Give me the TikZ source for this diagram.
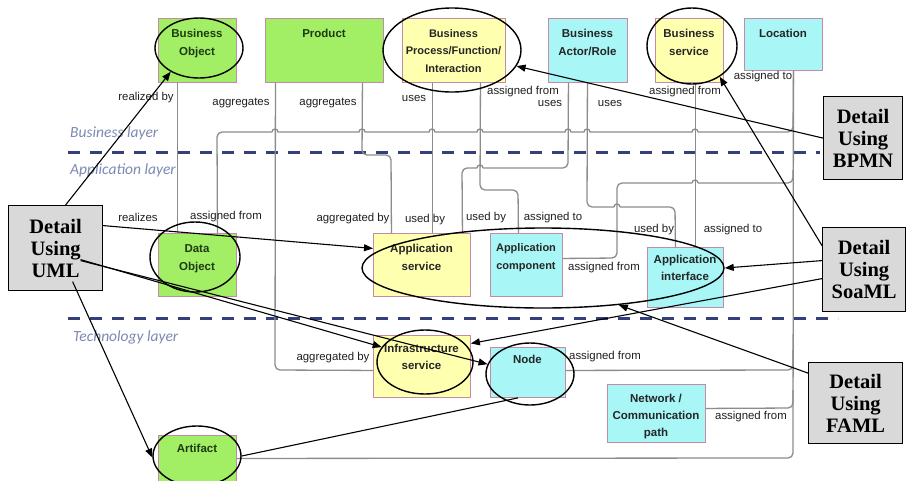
\documentclass[tikz,border=0pt]{standalone}
\usepackage{fontspec}
\setmainfont{Liberation Sans}
\newfontfamily\detailfont{Liberation Serif}
\newfontfamily\layerfont{Carlito}
\usetikzlibrary{shapes.geometric,arrows.meta}

\definecolor{gfill}{HTML}{A2EE64}
\definecolor{yfill}{HTML}{FFFFB0}
\definecolor{cfill}{HTML}{A8F6F6}
\definecolor{boxedge}{HTML}{C48AA8}
\definecolor{connc}{HTML}{8C8C8C}
\definecolor{sepc}{HTML}{35407A}
\definecolor{layerc}{HTML}{7D89B3}
\definecolor{detfill}{HTML}{D9D9D9}
\definecolor{etext}{HTML}{262626}
\definecolor{gtext}{HTML}{1E3B12}

\tikzset{
  ent/.style={draw=boxedge, line width=0.9pt, inner sep=0pt, anchor=north west},
  gent/.style={ent, fill=gfill},
  yent/.style={ent, fill=yfill},
  cent/.style={ent, fill=cfill},
  etxt/.style={font=\bfseries\fontsize{11.5}{18}\selectfont, align=center, anchor=north, inner sep=0pt, text=etext},
  getxt/.style={etxt, text=gtext},
  lbl/.style={font=\fontsize{11.4}{12}\selectfont, inner sep=0pt, text=black!88},
  conn/.style={draw=connc, line width=1.3pt, rounded corners=5pt},
  hopline/.style={draw=connc, line width=1.3pt},
  halo/.style={ellipse, draw=black, line width=1.4pt, inner sep=0pt},
  ptr/.style={draw=black, line width=1.1pt, -{Triangle[length=9pt,width=7pt]}},
  tie/.style={draw=black, line width=1.1pt},
  detail/.style={draw=black, fill=detfill, line width=1.2pt, anchor=north west, inner sep=0pt,
    font=\detailfont\bfseries\fontsize{20.5}{22}\selectfont, align=center},
  layertxt/.style={font=\layerfont\itshape\fontsize{15.5}{16}\selectfont, text=layerc, anchor=west, inner sep=0pt},
  sepline/.style={draw=sepc, line width=3pt, dash pattern=on 12pt off 10pt},
}

\begin{document}
\begin{tikzpicture}[x=1pt,y=-1pt]
\useasboundingbox (0,0) rectangle (906,480);
\fill[white] (0,0) rectangle (906,480);

% layer separators and layer names
\draw[sepline] (68,152.5) -- (820,152.5);
\draw[sepline] (68,318) -- (838,318);
\node[layertxt] (lay-bus) at (70,133) {Business layer};
\node[layertxt] (lay-app) at (70,170) {Application layer};
\node[layertxt] (lay-tech) at (73,337) {Technology layer};

% business layer elements
\node[gent, minimum width=78, minimum height=64] (bobj) at (158,18) {};
\node[gent, minimum width=118, minimum height=64] (prod) at (265,18) {};
\node[yent, minimum width=103, minimum height=64] (bproc) at (402,18) {};
\node[cent, minimum width=79, minimum height=64] (bactor) at (548,18) {};
\node[yent, minimum width=68, minimum height=64] (bsvc) at (655,18) {};
\node[cent, minimum width=78, minimum height=52] (loc) at (744,18) {};
\node[getxt] (bobj-t) at (197,29) {Business\\Object};
\node[getxt] (prod-t) at (324,29) {Product};
\node[etxt, font=\bfseries\fontsize{11}{17.5}\selectfont] (bproc-t) at (453.5,29) {Business\\Process/Function/\\Interaction};
\node[etxt] (bactor-t) at (587.5,29) {Business\\Actor/Role};
\node[etxt] (bsvc-t) at (689,29) {Business\\service};
\node[etxt] (loc-t) at (783,29) {Location};

% application layer elements
\node[gent, minimum width=78, minimum height=63] (dobj) at (158,233) {};
\node[yent, minimum width=97, minimum height=63] (asvc) at (373,233) {};
\node[cent, minimum width=72, minimum height=63] (acomp) at (490,233) {};
\node[cent, minimum width=76, minimum height=60] (aint) at (647,247) {};
\node[getxt] (dobj-t) at (197,244) {Data\\Object};
\node[etxt] (asvc-t) at (421.5,244) {Application\\service};
\node[etxt, font=\bfseries\fontsize{11}{18}\selectfont] (acomp-t) at (526,243) {Application\\component};
\node[etxt, font=\bfseries\fontsize{11.5}{17}\selectfont] (aint-t) at (685,255) {Application\\interface};

% technology layer elements
\node[yent, minimum width=97, minimum height=62] (infra) at (373,335) {};
\node[cent, minimum width=75, minimum height=50] (nd) at (490,347) {};
\node[cent, minimum width=98, minimum height=58] (net) at (607,384) {};
\node[gent, minimum width=78, minimum height=55] (art) at (158,435) {};
\node[etxt, font=\bfseries\fontsize{11.5}{16.5}\selectfont] (infra-t) at (421.5,344) {Infrastructure\\service};
\node[etxt] (nd-t) at (527.5,355) {Node};
\node[etxt, font=\bfseries\fontsize{11.5}{17}\selectfont] (net-t) at (656,394) {Network /\\Communication\\path};
\node[getxt] (art-t) at (197,444) {Artifact};

% relationship lines
\draw[conn] ([xshift=-20pt]bobj.south) -- ([xshift=-20pt]dobj.north);
% location to data object, hopping over the crossing lines
\draw[conn] ([xshift=10pt]loc.south) -- (793,132) -- (698,132);
\draw[hopline] (698,132) arc[start angle=0,end angle=-180,radius=3]
  -- (590,132) arc[start angle=0,end angle=-180,radius=3]
  -- (571,132) arc[start angle=0,end angle=-180,radius=3]
  -- (483,132) arc[start angle=0,end angle=-180,radius=3]
  -- (435,132) arc[start angle=0,end angle=-180,radius=3]
  -- (365,132) arc[start angle=0,end angle=-180,radius=3]
  -- (278,132) arc[start angle=0,end angle=-180,radius=3];
\draw[conn] (272,132) -- (217,132) -- ([xshift=20pt]dobj.north);
% product
\draw[conn] ([xshift=-49pt]prod.south) -- (275,370) -- ([yshift=-4pt]infra.west);
\draw[conn] ([xshift=38pt]prod.south) -- (362,155) -- (391,155) -- ([xshift=-30.5pt]asvc.north);
% business process
\draw[conn] ([xshift=-21.5pt]bproc.south) -- ([xshift=10.5pt]asvc.north);
\draw[conn] ([xshift=26.5pt]bproc.south) -- (480,190) -- (518,190) -- ([xshift=-8pt]acomp.north);
% business actor
\draw[conn] ([xshift=-19.5pt]bactor.south) -- (568,168) -- (483,168);
\draw[hopline] (483,168) arc[start angle=0,end angle=-180,radius=3];
\draw[conn] (477,168) -- (462,168) -- ([xshift=40.5pt]asvc.north);
\draw[conn] ([xshift=-0.5pt]bactor.south) -- (587,207) -- (614,207);
\draw[hopline] (614,207) arc[start angle=180,end angle=360,radius=3];
\draw[conn] (620,207) -- (675,207) -- ([xshift=-10pt]aint.north);
% business service
\draw[conn] ([xshift=6pt]bsvc.south) -- ([xshift=10pt]aint.north);
% location trunk and its branches
\draw[conn] ([xshift=10pt]loc.south) -- (793,458) -- ([yshift=4.5pt]art.east);
\draw[conn] (793,170) -- (793,183) -- (698,183);
\draw[hopline] (698,183) arc[start angle=0,end angle=-180,radius=3];
\draw[conn] (692,183) -- (617,183) -- (617,258) -- ([yshift=6.5pt]acomp.east);
\draw[conn] (793,350) -- (793,370) -- ([yshift=2pt]nd.east);
\draw[conn] (793,390) -- (793,408) -- ([yshift=5pt]net.east);

% relationship names
\node[lbl] (t-realizedby) at (146,98) {realized by};
\node[lbl] (t-aggr1) at (241,103) {aggregates};
\node[lbl] (t-aggr2) at (328,103) {aggregates};
\node[lbl] (t-uses1) at (414,98) {uses};
\node[lbl] (t-asgfrom1) at (523,92) {assigned from};
\node[lbl] (t-uses2) at (550,103) {uses};
\node[lbl] (t-uses3) at (610,103) {uses};
\node[lbl] (t-asgfrom2) at (685,92) {assigned from};
\node[lbl] (t-asgto1) at (763,77) {assigned to};
\node[lbl] (t-realizes) at (138,217) {realizes};
\node[lbl] (t-asgfrom3) at (226,217) {assigned from};
\node[lbl] (t-aggby1) at (353,219) {aggregated by};
\node[lbl] (t-usedby1) at (425,220) {used by};
\node[lbl] (t-usedby2) at (486,218) {used by};
\node[lbl] (t-asgto2) at (553,218) {assigned to};
\node[lbl] (t-usedby3) at (654,230) {used by};
\node[lbl] (t-asgto3) at (733,230) {assigned to};
\node[lbl] (t-asgfrom4) at (604,268) {assigned from};
\node[lbl] (t-aggby2) at (333,358) {aggregated by};
\node[lbl] (t-asgfrom5) at (605,357) {assigned from};
\node[lbl] (t-asgfrom6) at (751,417) {assigned from};

% highlighted elements
\node[halo, minimum width=88, minimum height=60] (bobj-r) at (199,48) {};
\node[halo, minimum width=138, minimum height=84] (bproc-r) at (452,50) {};
\node[halo, minimum width=90, minimum height=76] (bsvc-r) at (692,46) {};
\node[halo, minimum width=90, minimum height=70] (dobj-r) at (195,257) {};
\node[halo, minimum width=362, minimum height=80] (app-r) at (543,268) {};
\node[halo, minimum width=96, minimum height=64] (infra-r) at (425,362) {};
\node[halo, minimum width=88, minimum height=62] (nd-r) at (530,374) {};
\node[halo, minimum width=88, minimum height=60] (art-r) at (197,456) {};

% notation boxes
\node[detail, minimum width=79, minimum height=83] (bpmn) at (823,96) {Detail\\Using\\BPMN};
\node[detail, minimum width=94, minimum height=85] (uml) at (8,205) {Detail\\Using\\UML};
\node[detail, minimum width=83, minimum height=84] (soaml) at (822,227) {Detail\\Using\\SoaML};
\node[detail, minimum width=94, minimum height=81] (faml) at (808,362) {Detail\\Using\\FAML};

% pointers from the notation boxes
\draw[ptr] ([xshift=10pt]uml.north) -- (bobj-r.220);
\draw[ptr] ([yshift=22.5pt]uml.east) -- ([yshift=16.5pt]asvc.west);
\draw[ptr] ([xshift=25pt,yshift=-11.5pt]uml.center) -- (infra-r.161);
\draw[ptr] ([xshift=25pt,yshift=-12.5pt]uml.center) -- (nd-r.167);
\draw[ptr] ([xshift=17pt,yshift=-33.5pt]uml.center) -- (art-r.182);
\draw[ptr] (bpmn.west) -- (bproc-r.-14);
\draw[ptr] ([yshift=24pt]soaml.west) -- (bsvc-r.-48);
\draw[ptr] ([yshift=9pt]soaml.west) -- (app-r.east);
\draw[ptr] ([yshift=-9pt]soaml.west) -- ([yshift=23pt]infra.east);
\draw[ptr] ([yshift=30pt]faml.west) -- (app-r.-26);
\draw[tie] (art-r.east) -- ([xshift=-10pt]nd.south);
\end{tikzpicture}
\end{document}
